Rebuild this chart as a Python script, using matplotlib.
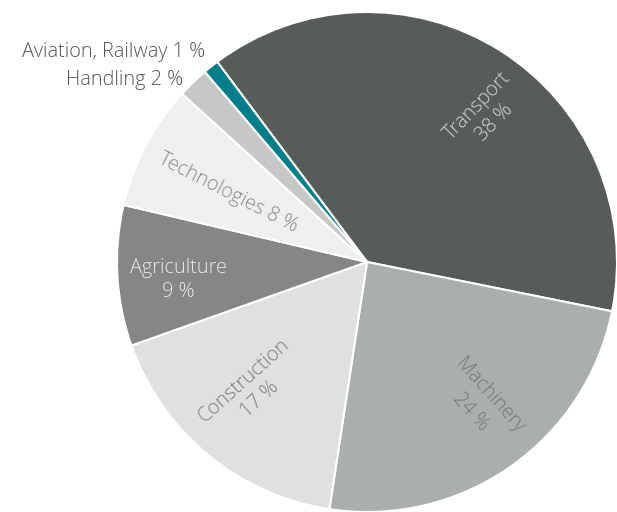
import matplotlib
matplotlib.use("Agg")
import matplotlib.pyplot as plt

categories = ["Transport", "Machinery", "Construction", "Agriculture",
              "Technologies", "Handling", "Aviation, Railway"]
shares = [38, 24, 17, 9, 8, 2, 1]
colors = ["#575b5a", "#abaeae", "#dfe0e0", "#858786", "#eeefef", "#c6c7c7", "#007f8a"]

W, H = 617, 512
fig = plt.figure(figsize=(W / 100, H / 100), dpi=100)
ax = fig.add_axes([0, 0, 1, 1])

cx, cy, R = 367, H - 262, 250
ax.pie(shares, colors=colors, startangle=126.8, counterclock=False,
       center=(cx, cy), radius=R, frame=True,
       wedgeprops=dict(edgecolor="white", linewidth=1.5))
ax.set_xlim(0, W)
ax.set_ylim(0, H)
ax.set_aspect("equal")
ax.axis("off")

FONT = dict(family=["Open Sans", "DejaVu Sans"], fontweight="light", fontsize=14.3)

def label(xp, yp, s, rot, color, ha="center", linespacing=1.3):
    ax.text(xp, H - yp, s, rotation=rot, rotation_mode="anchor", ha=ha,
            va="center", color=color, multialignment="center",
            linespacing=linespacing, **FONT)

label(486, 114, f"{categories[0]}\n{shares[0]} %", 46, "#d2d4d3")
label(480, 404, f"{categories[1]}\n{shares[1]} %", -48, "#767978")
label(252, 390, f"{categories[2]}\n{shares[2]} %", 42, "#7d7f7e")
label(178, 280, f"{categories[3]}\n{shares[3]} %", 0, "#e6e7e7")
label(228, 193, f"{categories[4]} {shares[4]} %", -27, "#8a8c8b")
label(205, 52, f"{categories[6]} {shares[6]} %", 0, "#555555", ha="right")
label(183, 80, f"{categories[5]} {shares[5]} %", 0, "#555555", ha="right")

fig.savefig("out.png", dpi=100)
